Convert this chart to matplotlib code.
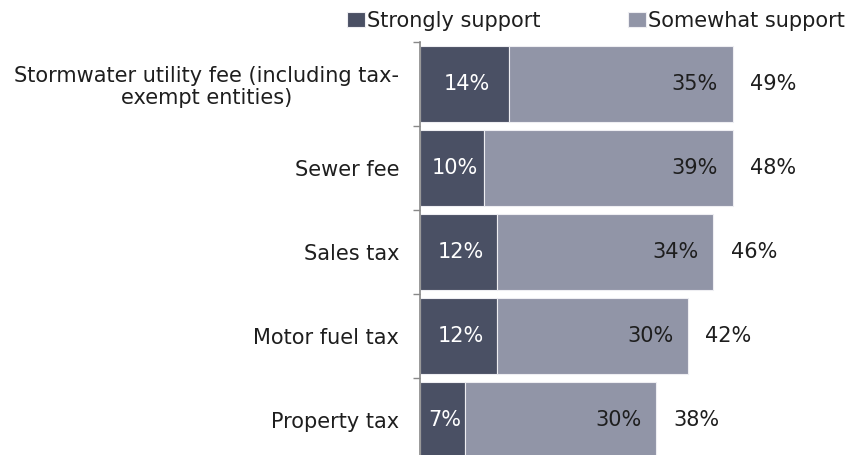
import numpy as np
import matplotlib.pyplot as plt

categories = [
    "Stormwater utility fee (including tax-\nexempt entities)",
    "Sewer fee",
    "Sales tax",
    "Motor fuel tax",
    "Property tax",
]
strongly = [14, 10, 12, 12, 7]
somewhat = [35, 39, 34, 30, 30]
totals = [49, 48, 46, 42, 38]

dark = "#4a5064"
light = "#9195a7"
txt = "#1e1e1e"

plt.rcParams["font.family"] = "DejaVu Sans"

fig = plt.figure(figsize=(8.47, 4.55), dpi=100)
ax = fig.add_axes([420 / 847, -7 / 455, 390 / 847, 420 / 455])

y = np.arange(len(categories))
h = 0.9
b1 = ax.barh(y, strongly, height=h, color=dark, edgecolor="#eeeef2", linewidth=0.8,
             label="Strongly support")
b2 = ax.barh(y, somewhat, left=strongly, height=h, color=light, edgecolor="#eeeef2",
             linewidth=0.8, label="Somewhat support")

fs = 15
for i in range(len(categories)):
    ax.text(strongly[i] / 2 + 0.4, y[i], f"{strongly[i]}%", ha="center", va="center",
            color="white", fontsize=fs)
    ax.text(strongly[i] + somewhat[i] - 2.3, y[i], f"{somewhat[i]}%", ha="right",
            va="center", color=txt, fontsize=fs)
    ax.text(strongly[i] + somewhat[i] + 2.7, y[i], f"{totals[i]}%", ha="left",
            va="center", color=txt, fontsize=fs)

ax.set_xlim(0, 390 / 6.38)
ax.set_ylim(len(categories) - 0.5, -0.5)
ax.set_yticks(y)
ax.set_yticklabels(categories, fontsize=fs, multialignment="center", color=txt,
                   linespacing=1.15)
ax.set_yticks(np.arange(-0.5, len(categories)), minor=True)
ax.tick_params(axis="y", which="major", length=0, pad=15)
ax.tick_params(axis="y", which="minor", length=5, color="#888888", width=1)
ax.set_xticks([])
for s in ["top", "right", "bottom"]:
    ax.spines[s].set_visible(False)
ax.spines["left"].set_color("#888888")
ax.spines["left"].set_linewidth(1.2)

leg = fig.legend(handles=[b1, b2], loc="center left",
                 bbox_to_anchor=(347 / 847, 1 - 21 / 455), ncol=2, frameon=False,
                 fontsize=fs, handlelength=0.85, handleheight=0.75,
                 handletextpad=0.1, columnspacing=4.2, borderpad=0, borderaxespad=0)
for t in leg.get_texts():
    t.set_color(txt)

fig.savefig("out.png", dpi=100)
